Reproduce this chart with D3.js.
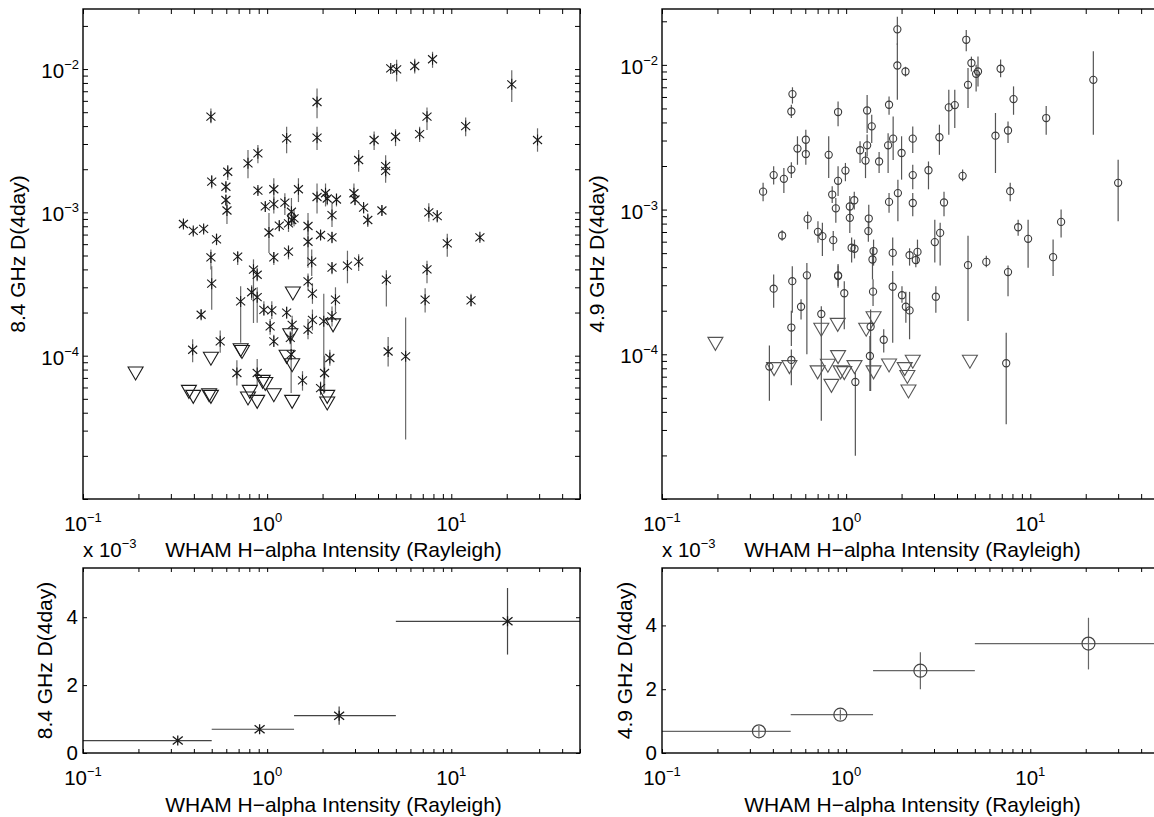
<!DOCTYPE html>
<html>
<head>
<meta charset="utf-8">
<script src="https://cdn.jsdelivr.net/npm/d3@7"></script>
<style>
  body { margin: 0; background: #fff; }
  svg { display: block; }
  text { font-family: "Liberation Sans", Arial, Helvetica, sans-serif; fill: #000; }
</style>
</head>
<body>
<svg id="chart" width="1154" height="817"></svg>
<script>
// 8.4 GHz detections: [intensity, D, D low, D high]
const det84 = [
  [0.495, 4.65e-3, 4.18e-3, 5.3e-3], [0.50, 1.64e-3, 1.47e-3, 1.82e-3],
  [0.597, 1.51e-3, 1.37e-3, 1.64e-3], [0.611, 1.92e-3, 1.68e-3, 2.14e-3],
  [0.597, 1.22e-3, 1.12e-3, 1.32e-3], [0.605, 1.03e-3, 8.3e-4, 1.22e-3],
  [0.787, 2.2e-3, 1.73e-3, 2.72e-3], [0.891, 2.58e-3, 2.2e-3, 2.95e-3],
  [0.891, 1.42e-3, 1.33e-3, 1.51e-3], [1.087, 1.45e-3, 1.22e-3, 1.73e-3],
  [0.977, 1.10e-3, 1.01e-3, 1.18e-3], [1.087, 1.14e-3, 0.98e-3, 1.28e-3],
  [1.248, 1.17e-3, 0.96e-3, 1.36e-3], [1.276, 3.28e-3, 2.58e-3, 3.96e-3],
  [1.479, 1.45e-3, 1.18e-3, 1.73e-3], [1.355, 1.01e-3, 0.82e-3, 1.26e-3],
  [1.36, 8.85e-4, 8.2e-4, 9.6e-4], [1.866, 5.89e-3, 4.53e-3, 7.33e-3],
  [1.866, 3.32e-3, 2.72e-3, 3.96e-3], [1.866, 1.28e-3, 0.98e-3, 1.59e-3],
  [2.075, 1.36e-3, 1.10e-3, 1.59e-3], [2.12, 1.25e-3, 1.12e-3, 1.38e-3],
  [2.38, 1.23e-3, 1.10e-3, 1.36e-3], [2.25, 9.57e-4, 7.9e-4, 1.16e-3],
  [2.96, 1.36e-3, 1.18e-3, 1.59e-3], [3.0, 1.23e-3, 1.12e-3, 1.32e-3],
  [3.34, 1.08e-3, 0.98e-3, 1.16e-3], [3.52, 8.85e-4, 7.9e-4, 9.8e-4],
  [4.20, 1.03e-3, 9.5e-4, 1.12e-3], [3.14, 2.32e-3, 1.92e-3, 2.72e-3],
  [3.81, 3.2e-3, 2.72e-3, 3.66e-3], [4.40, 2.10e-3, 1.73e-3, 2.5e-3],
  [4.40, 1.95e-3, 1.61e-3, 2.32e-3], [4.69, 1.01e-2, 9.6e-3, 1.06e-2],
  [5.05, 9.95e-3, 8.2e-3, 1.16e-2], [4.98, 3.37e-3, 2.9e-3, 3.8e-3],
  [6.33, 1.05e-2, 9.3e-3, 1.18e-2], [7.91, 1.17e-2, 1.02e-2, 1.32e-2],
  [6.73, 3.52e-3, 3.1e-3, 3.95e-3], [7.38, 4.65e-3, 3.75e-3, 5.4e-3],
  [7.55, 1.0e-3, 8.6e-4, 1.16e-3], [8.39, 9.42e-4, 8.5e-4, 1.04e-3],
  [11.97, 4.0e-3, 3.4e-3, 4.6e-3], [21.3, 7.82e-3, 5.9e-3, 9.8e-3],
  [29.4, 3.2e-3, 2.65e-3, 3.86e-3], [0.351, 8.3e-4, 7.8e-4, 8.8e-4],
  [0.397, 7.42e-4, 7.0e-4, 7.8e-4], [0.452, 7.66e-4, 7.2e-4, 8.1e-4],
  [0.531, 6.48e-4, 5.9e-4, 7.1e-4], [1.023, 7.24e-4, 5.2e-4, 9.9e-4],
  [1.164, 8.07e-4, 7.4e-4, 8.8e-4], [1.306, 8.37e-4, 7.3e-4, 9.9e-4],
  [1.40, 9.08e-4, 8.0e-4, 1.05e-3], [1.667, 8.03e-4, 6.9e-4, 9.9e-4],
  [1.667, 6.24e-4, 4.1e-4, 7.9e-4], [1.95, 6.95e-4, 6.4e-4, 7.5e-4],
  [2.25, 6.7e-4, 6.1e-4, 7.3e-4], [9.51, 6.08e-4, 4.9e-4, 7.1e-4],
  [14.3, 6.7e-4, 6.3e-4, 7.0e-4], [0.495, 4.85e-4, 4.0e-4, 5.5e-4],
  [0.692, 4.91e-4, 4.3e-4, 5.3e-4], [1.087, 4.85e-4, 4.3e-4, 5.3e-4],
  [1.306, 5.32e-4, 4.7e-4, 5.9e-4], [1.746, 4.53e-4, 3.6e-4, 5.5e-4],
  [2.25, 4.11e-4, 3.7e-4, 4.5e-4], [2.73, 4.25e-4, 3.2e-4, 5.4e-4],
  [3.14, 4.53e-4, 3.9e-4, 5.1e-4], [7.38, 4.0e-4, 3.2e-4, 4.6e-4],
  [0.843, 3.98e-4, 1.69e-4, 4.7e-4], [0.883, 3.67e-4, 3.3e-4, 4.1e-4],
  [0.824, 2.77e-4, 2.45e-4, 3.1e-4], [0.883, 2.56e-4, 1.7e-4, 3.0e-4],
  [0.96, 2.09e-4, 1.9e-4, 2.4e-4], [1.06, 2.07e-4, 1.8e-4, 2.4e-4],
  [1.038, 1.6e-4, 1.4e-4, 1.8e-4], [1.087, 1.26e-4, 1.15e-4, 1.4e-4],
  [1.276, 2.0e-4, 1.8e-4, 2.2e-4], [1.367, 1.64e-4, 1.4e-4, 1.9e-4],
  [1.336, 1.33e-4, 1.2e-4, 1.48e-4], [1.35, 1.02e-4, 5.5e-5, 1.45e-4],
  [1.667, 3.3e-4, 2.85e-4, 3.75e-4], [1.762, 2.71e-4, 2.3e-4, 3.2e-4],
  [1.762, 1.78e-4, 1.5e-4, 2.1e-4], [1.667, 1.52e-4, 1.3e-4, 1.8e-4],
  [1.556, 6.73e-5, 5.7e-5, 7.8e-5], [2.35, 2.46e-4, 2.0e-4, 3.0e-4],
  [2.25, 1.88e-4, 1.6e-4, 2.2e-4], [2.03, 1.74e-4, 5.4e-5, 2.7e-4],
  [2.19, 9.63e-5, 8.5e-5, 1.1e-4], [2.05, 7.57e-5, 5.5e-5, 1.0e-4],
  [1.95, 5.94e-5, 5.3e-5, 6.6e-5], [4.44, 3.39e-4, 2.2e-4, 3.95e-4],
  [4.54, 1.07e-4, 8.4e-5, 1.35e-4], [5.65, 9.9e-5, 2.6e-5, 1.85e-4],
  [7.21, 2.46e-4, 2.0e-4, 2.95e-4], [12.8, 2.43e-4, 2.2e-4, 2.7e-4],
  [0.394, 1.1e-4, 9.0e-5, 1.3e-4], [0.438, 1.93e-4, 1.8e-4, 2.1e-4],
  [0.556, 1.26e-4, 1.05e-4, 1.5e-4], [0.685, 7.57e-5, 6.2e-5, 9.3e-5],
  [0.883, 7.57e-5, 6.2e-5, 9.5e-5], [0.50, 3.18e-4, 2.09e-4, 4.2e-4],
  [0.718, 2.39e-4, 1.23e-4, 3.05e-4]
];

// 8.4 GHz upper limits: [intensity, D]
const lim84 = [
  [0.193, 7.57e-5], [0.495, 9.6e-5], [0.376, 5.64e-5], [0.397, 5.2e-5],
  [0.484, 5.34e-5], [0.495, 5.2e-5], [0.718, 1.1e-4], [0.73, 1.07e-4],
  [0.805, 5.64e-5], [0.787, 5.07e-5], [0.883, 4.8e-5], [0.946, 6.62e-5],
  [0.977, 6.4e-5], [1.087, 5.34e-5], [1.367, 4.8e-5], [1.38, 2.74e-4],
  [1.336, 1.4e-4], [1.367, 8.65e-5], [1.276, 9.9e-5], [2.28, 1.64e-4],
  [2.12, 5.2e-5], [2.12, 4.68e-5]
];

// 4.9 GHz detections: [intensity, D, D low, D high]
const det49 = [
  [1.897, 1.76e-2, 1.37e-2, 2.15e-2], [1.897, 9.9e-3, 5.74e-3, 1.41e-2],
  [2.10, 9.0e-3, 8.3e-3, 9.7e-3], [4.49, 1.49e-2, 1.24e-2, 1.74e-2],
  [4.79, 1.03e-2, 9.0e-3, 1.14e-2], [4.59, 7.28e-3, 5.03e-3, 9.5e-3],
  [5.08, 8.67e-3, 6.55e-3, 1.0e-2], [5.2, 9.0e-3, 7.1e-3, 1.14e-2],
  [6.9, 9.4e-3, 8.2e-3, 1.09e-2], [22.0, 7.88e-3, 3.29e-3, 1.24e-2],
  [0.511, 6.28e-3, 5.4e-3, 7.0e-3], [0.504, 4.76e-3, 4.3e-3, 5.3e-3],
  [0.904, 4.72e-3, 3.76e-3, 5.58e-3], [1.30, 4.84e-3, 3.38e-3, 6.2e-3],
  [1.71, 5.3e-3, 4.52e-3, 6.05e-3], [1.377, 3.76e-3, 2.88e-3, 4.52e-3],
  [3.61, 5.08e-3, 3.29e-3, 6.73e-3], [3.89, 5.27e-3, 3.66e-3, 6.73e-3],
  [8.11, 5.8e-3, 4.52e-3, 7.1e-3], [12.2, 4.29e-3, 3.29e-3, 5.2e-3],
  [6.47, 3.24e-3, 1.79e-3, 4.65e-3], [7.57, 3.52e-3, 2.88e-3, 4.06e-3],
  [0.604, 3.04e-3, 2.46e-3, 3.56e-3], [0.544, 2.64e-3, 2.04e-3, 3.21e-3],
  [0.604, 2.42e-3, 2.04e-3, 2.88e-3], [0.504, 1.89e-3, 1.65e-3, 2.12e-3],
  [0.404, 1.73e-3, 1.49e-3, 1.99e-3], [0.459, 1.63e-3, 1.30e-3, 1.94e-3],
  [0.354, 1.33e-3, 1.14e-3, 1.53e-3], [0.804, 2.39e-3, 1.65e-3, 3.21e-3],
  [0.991, 1.86e-3, 1.57e-3, 2.1e-3], [0.904, 1.58e-3, 1.24e-3, 1.99e-3],
  [0.84, 1.27e-3, 1.11e-3, 1.45e-3], [0.879, 1.02e-3, 8.1e-4, 1.2e-3],
  [1.19, 2.57e-3, 2.1e-3, 2.96e-3], [1.30, 2.78e-3, 2.33e-3, 3.3e-3],
  [1.274, 2.18e-3, 1.65e-3, 2.5e-3], [1.51, 2.15e-3, 1.79e-3, 2.5e-3],
  [1.69, 2.78e-3, 1.79e-3, 3.37e-3], [1.80, 3.09e-3, 2.2e-3, 4.4e-3],
  [2.0, 2.46e-3, 1.61e-3, 3.21e-3], [2.30, 3.09e-3, 2.46e-3, 3.75e-3],
  [2.30, 1.73e-3, 1.38e-3, 2.04e-3], [3.21, 3.16e-3, 2.39e-3, 3.86e-3],
  [2.80, 1.87e-3, 1.38e-3, 2.15e-3], [4.29, 1.71e-3, 1.57e-3, 1.89e-3],
  [7.78, 1.34e-3, 1.14e-3, 1.53e-3], [30.0, 1.53e-3, 8.3e-4, 2.21e-3],
  [1.107, 1.16e-3, 1.0e-3, 1.33e-3], [1.047, 1.05e-3, 8.5e-4, 1.24e-3],
  [1.71, 1.13e-3, 9.5e-4, 1.3e-3], [1.91, 1.30e-3, 8.3e-4, 1.61e-3],
  [2.30, 1.11e-3, 9.0e-4, 1.3e-3], [3.40, 1.12e-3, 9.0e-4, 1.33e-3],
  [0.618, 8.62e-4, 7.3e-4, 9.7e-4], [0.449, 6.62e-4, 6.1e-4, 7.2e-4],
  [0.703, 7.02e-4, 5.9e-4, 8.3e-4], [0.743, 6.55e-4, 4.77e-4, 8.1e-4],
  [0.851, 6.15e-4, 5.2e-4, 7.1e-4], [1.047, 8.77e-4, 6.9e-4, 1.08e-3],
  [1.327, 8.67e-4, 6.9e-4, 1.08e-3], [1.32, 7.1e-4, 6.0e-4, 8.3e-4],
  [1.071, 5.45e-4, 4.3e-4, 6.4e-4], [1.11, 5.36e-4, 4.6e-4, 6.2e-4],
  [1.409, 5.17e-4, 4.1e-4, 6.2e-4], [1.39, 4.52e-4, 3.29e-4, 5.4e-4],
  [1.79, 5.02e-4, 4.1e-4, 6.4e-4], [2.21, 4.84e-4, 4.1e-4, 5.4e-4],
  [2.44, 5.1e-4, 4.2e-4, 6.2e-4], [2.39, 4.48e-4, 4.0e-4, 4.9e-4],
  [3.03, 5.96e-4, 4.3e-4, 8.5e-4], [3.24, 6.9e-4, 4.1e-4, 8.1e-4],
  [8.59, 7.55e-4, 6.6e-4, 8.5e-4], [9.73, 6.28e-4, 3.96e-4, 8.5e-4],
  [14.7, 8.22e-4, 6.4e-4, 1.0e-3], [13.3, 4.69e-4, 3.47e-4, 6.2e-4],
  [4.59, 4.13e-4, 1.7e-4, 6.6e-4], [5.77, 4.35e-4, 4.0e-4, 4.8e-4],
  [7.57, 3.7e-4, 2.52e-4, 4.1e-4], [0.904, 3.47e-4, 2.96e-4, 4.1e-4],
  [0.404, 2.84e-4, 2.1e-4, 3.56e-4], [0.51, 3.2e-4, 1.94e-4, 4.06e-4],
  [0.612, 3.51e-4, 1.0e-4, 4.28e-4], [0.904, 3.51e-4, 2.88e-4, 4.2e-4],
  [0.977, 2.64e-4, 1.49e-4, 3.2e-4], [1.40, 2.71e-4, 2.16e-4, 3.3e-4],
  [1.79, 2.93e-4, 1.2e-4, 3.76e-4], [2.01, 2.56e-4, 2.27e-4, 2.95e-4],
  [2.11, 2.13e-4, 1.65e-4, 2.7e-4], [2.21, 2.01e-4, 1.27e-4, 2.7e-4],
  [3.07, 2.5e-4, 1.94e-4, 2.95e-4], [0.569, 2.13e-4, 1.74e-4, 2.4e-4],
  [0.733, 1.9e-4, 3.47e-5, 2.15e-4], [0.504, 1.53e-4, 1.14e-4, 2.0e-4],
  [1.358, 1.55e-4, 5.58e-5, 2.04e-4], [1.60, 1.26e-4, 1.03e-4, 1.49e-4],
  [1.346, 9.74e-5, 5.58e-5, 1.34e-4], [0.504, 9.14e-5, 6.1e-5, 1.08e-4],
  [0.383, 8.22e-5, 4.77e-5, 1.15e-4], [1.122, 6.44e-5, 1.99e-5, 7.47e-5],
  [7.4, 8.67e-5, 3.29e-5, 1.41e-4]
];

// 4.9 GHz upper limits: [intensity, D]
const lim49 = [
  [0.195, 1.19e-4], [0.733, 1.49e-4], [0.90, 1.61e-4], [1.285, 1.49e-4],
  [1.409, 1.79e-4], [0.904, 9.64e-5], [0.796, 8.4e-5], [0.70, 7.56e-5],
  [0.492, 8.22e-5], [0.406, 7.96e-5], [0.933, 7.56e-5], [0.977, 7.47e-5],
  [1.11, 8.22e-5], [1.409, 7.56e-5], [1.71, 8.44e-5], [2.08, 7.96e-5],
  [2.30, 8.95e-5], [2.15, 7.02e-5], [0.832, 6.1e-5], [2.18, 5.58e-5],
  [4.70, 8.95e-5]
];

// binned means (units of 1e-3)
const binEdges = [0.1, 0.5, 1.4, 5, 50];
const bin84X = [0.327, 0.91, 2.46, 20.2];
const bin84Y = [0.365, 0.70, 1.10, 3.88];
const bin84Err = [0.05, 0.06, 0.27, 0.98];
const bin49X = [0.336, 0.93, 2.53, 20.7];
const bin49Y = [0.68, 1.20, 2.58, 3.43];
const bin49Err = [0.17, 0.16, 0.58, 0.81];

const xTickExp = [-1, 0, 1];
const yTickExp = [-4, -3, -2];
const linYTicks = [0, 2, 4];

const xTitle = "WHAM H\u2212alpha Intensity (Rayleigh)";
const svg = d3.select("#chart");

function logTicks(dom) {
  const out = [];
  const lo = Math.floor(Math.log10(dom[0])), hi = Math.ceil(Math.log10(dom[1]));
  for (let e = lo; e <= hi; e++) {
    for (let m = 1; m <= 9; m++) {
      const v = m * Math.pow(10, e);
      if (v >= dom[0] * 0.999 && v <= dom[1] * 1.001) out.push(v);
    }
  }
  return out;
}

function powText(sel, e) {
  sel.append("tspan").text("10");
  sel.append("tspan").attr("dy", -9).attr("font-size", 13)
    .text(e < 0 ? "\u2212" + (-e) : String(e));
}

function makePanel(cfg) {
  const x = d3.scaleLog().domain([0.1, 50]).range([cfg.x0, cfg.x1]);
  const y = (cfg.yLog ? d3.scaleLog() : d3.scaleLinear())
    .domain(cfg.yDom).range([cfg.y1, cfg.y0]);
  const g = svg.append("g");
  svg.append("clipPath").attr("id", "clip" + cfg.id).append("rect")
    .attr("x", cfg.x0).attr("y", cfg.y0)
    .attr("width", cfg.x1 - cfg.x0).attr("height", cfg.y1 - cfg.y0);
  const plot = g.append("g").attr("clip-path", `url(#clip${cfg.id})`);
  return { cfg, x, y, g, plot };
}

function drawFrame(p) {
  const c = p.cfg;
  const xt = logTicks(p.x.domain());
  const yt = c.yLog ? logTicks(p.y.domain()) : linYTicks;
  const axes = [
    [d3.axisBottom(p.x), `translate(0,${c.y1})`, xt],
    [d3.axisTop(p.x), `translate(0,${c.y0})`, xt],
    [d3.axisLeft(p.y), `translate(${c.x0},0)`, yt],
    [d3.axisRight(p.y), `translate(${c.x1},0)`, yt]
  ];
  axes.forEach(([ax, tr, vals]) => {
    const s = p.g.append("g").attr("transform", tr)
      .call(ax.tickValues(vals).tickSize(-c.tick).tickFormat(""));
    s.select(".domain").remove();
    s.selectAll("text").remove();
    s.selectAll("line").attr("stroke", "#000").attr("stroke-width", 1);
  });
  p.g.append("rect")
    .attr("x", c.x0).attr("y", c.y0)
    .attr("width", c.x1 - c.x0).attr("height", c.y1 - c.y0)
    .attr("fill", "none").attr("stroke", "#000").attr("stroke-width", 1.4);

  // x tick labels
  xTickExp.forEach(e => {
    const t = p.g.append("text").attr("x", p.x(Math.pow(10, e)))
      .attr("y", c.y1 + 32).attr("text-anchor", "middle").attr("font-size", 20.5);
    powText(t, e);
  });
  // y tick labels
  if (c.yLog) {
    yTickExp.forEach(e => {
      const t = p.g.append("text").attr("x", c.x0 - 4)
        .attr("y", p.y(Math.pow(10, e)) + 9).attr("text-anchor", "end").attr("font-size", 20.5);
      powText(t, e);
    });
  } else {
    linYTicks.forEach(v => {
      p.g.append("text").attr("x", c.x0 - 5).attr("y", p.y(v) + 7)
        .attr("text-anchor", "end").attr("font-size", 20.5).text(v);
    });
    const m = p.g.append("text").attr("x", c.x0).attr("y", c.y0 - 11).attr("font-size", 20.5);
    m.append("tspan").text("x 10");
    m.append("tspan").attr("dy", -9).attr("font-size", 13).text("\u22123");
  }
  p.g.append("text").attr("x", (c.x0 + c.x1) / 2 + 2).attr("y", c.y1 + c.titleDy)
    .attr("text-anchor", "middle").attr("font-size", 21).text(xTitle);
  p.g.append("text")
    .attr("transform", `translate(${c.ytX},${(c.y0 + c.y1) / 2}) rotate(-90)`)
    .attr("text-anchor", "middle").attr("font-size", 21).text(c.yTitle);
}

const starPath = "M0,-5.5L0,5.5M-4.5,-4L4.5,4M4.5,-4L-4.5,4";
const triPath = "M-7.5,-6L7.5,-6L0,7Z";

function scatterPanel(p, det, lim, style) {
  p.plot.selectAll(".eb").data(det).join("line")
    .attr("x1", d => p.x(d[0])).attr("x2", d => p.x(d[0]))
    .attr("y1", d => p.y(d[2])).attr("y2", d => p.y(d[3]))
    .attr("stroke", style.bar).attr("stroke-width", 1.2);
  p.plot.selectAll(".lim").data(lim).join("path")
    .attr("d", triPath)
    .attr("transform", d => `translate(${p.x(d[0])},${p.y(d[1])})`)
    .attr("fill", "none").attr("stroke", style.tri).attr("stroke-width", 1.1);
  if (style.marker === "star") {
    p.plot.selectAll(".pt").data(det).join("path")
      .attr("d", starPath)
      .attr("transform", d => `translate(${p.x(d[0])},${p.y(d[1])})`)
      .attr("fill", "none").attr("stroke", style.pt).attr("stroke-width", 1.1);
  } else {
    p.plot.selectAll(".pt").data(det).join("circle")
      .attr("cx", d => p.x(d[0])).attr("cy", d => p.y(d[1])).attr("r", 3.6)
      .attr("fill", "none").attr("stroke", style.pt).attr("stroke-width", 1.1);
  }
}

function binPanel(p, bx, by, be, style) {
  const idx = d3.range(bx.length);
  p.plot.selectAll(".hb").data(idx).join("line")
    .attr("x1", i => p.x(binEdges[i])).attr("x2", i => p.x(binEdges[i + 1]))
    .attr("y1", i => p.y(by[i])).attr("y2", i => p.y(by[i]))
    .attr("stroke", style.bar).attr("stroke-width", 1.2);
  p.plot.selectAll(".vb").data(idx).join("line")
    .attr("x1", i => p.x(bx[i])).attr("x2", i => p.x(bx[i]))
    .attr("y1", i => p.y(by[i] - be[i])).attr("y2", i => p.y(by[i] + be[i]))
    .attr("stroke", style.bar).attr("stroke-width", 1.2);
  if (style.marker === "star") {
    p.plot.selectAll(".pt").data(idx).join("path")
      .attr("d", "M0,-5L0,5M-5,-4L5,4M5,-4L-5,4")
      .attr("transform", i => `translate(${p.x(bx[i])},${p.y(by[i])})`)
      .attr("fill", "none").attr("stroke", style.pt).attr("stroke-width", 1.3);
  } else {
    p.plot.selectAll(".pt").data(idx).join("circle")
      .attr("cx", i => p.x(bx[i])).attr("cy", i => p.y(by[i])).attr("r", 6.5)
      .attr("fill", "none").attr("stroke", style.pt).attr("stroke-width", 1.2);
  }
}

const colL = { x0: 83, x1: 580 }, colR = { x0: 662, x1: 1159 };
const rowT = { y0: 9, y1: 499 }, rowB = { y0: 568, y1: 753 };

const pTL = makePanel({ id: "tl", ...colL, ...rowT, yLog: true, yDom: [1e-5, Math.pow(10, -1.581)],
  tick: 5, titleDy: 58, ytX: 25, yTitle: "8.4 GHz D(4day)" });
const pTR = makePanel({ id: "tr", ...colR, ...rowT, yLog: true, yDom: [1e-5, Math.pow(10, -1.614)],
  tick: 5, titleDy: 58, ytX: 604, yTitle: "4.9 GHz D(4day)" });
const pBL = makePanel({ id: "bl", ...colL, ...rowB, yLog: false, yDom: [0, 5.45],
  tick: 4, titleDy: 59, ytX: 52, yTitle: "8.4 GHz D(4day)" });
const pBR = makePanel({ id: "br", ...colR, ...rowB, yLog: false, yDom: [0, 5.8],
  tick: 4, titleDy: 59, ytX: 632, yTitle: "4.9 GHz D(4day)" });

scatterPanel(pTL, det84, lim84, { marker: "star", pt: "#1a1a1a", bar: "#6a6a6a", tri: "#1a1a1a" });
scatterPanel(pTR, det49, lim49, { marker: "circle", pt: "#3a3a3a", bar: "#555", tri: "#555" });
binPanel(pBL, bin84X, bin84Y, bin84Err, { marker: "star", pt: "#1a1a1a", bar: "#444" });
binPanel(pBR, bin49X, bin49Y, bin49Err, { marker: "circle", pt: "#444", bar: "#666" });

[pTL, pTR, pBL, pBR].forEach(drawFrame);
</script>
</body>
</html>
